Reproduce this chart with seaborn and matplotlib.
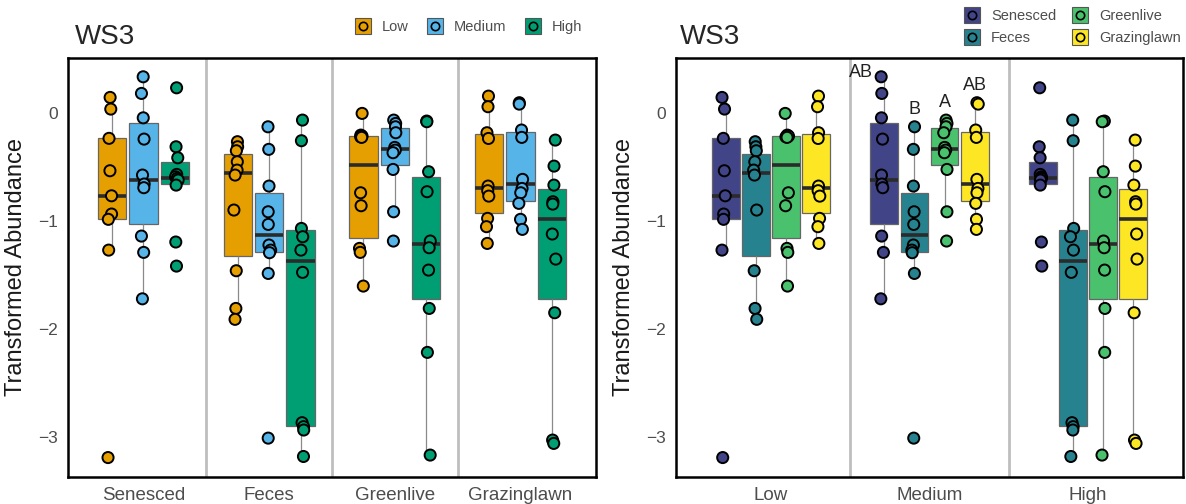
import numpy as np
import pandas as pd
import matplotlib
matplotlib.use("Agg")
import matplotlib.pyplot as plt
from matplotlib.lines import Line2D
from matplotlib.legend_handler import HandlerTuple
import seaborn as sns

# ---------------- data ----------------
substrates = ["Senesced", "Feces", "Greenlive", "Grazinglawn"]
levels = ["Low", "Medium", "High"]

senesced_low = [0.145, 0.037, -0.234, -0.534, -0.766, -0.935, -0.984, -1.269, -3.19]
senesced_medium = [0.336, 0.182, -0.044, -0.241, -0.574, -0.657, -0.691, -1.139, -1.29, -1.72]
senesced_high = [0.234, -0.312, -0.414, -0.568, -0.59, -0.605, -0.62, -0.667, -1.194, -1.417]

feces_low = [-0.265, -0.312, -0.349, -0.451, -0.528, -0.574, -0.898, -1.46, -1.809, -1.91]
feces_medium = [-0.127, -0.336, -0.676, -0.914, -1.031, -1.222, -1.269, -1.293, -1.485, -3.01]
feces_high = [-0.065, -0.256, -1.068, -1.145, -1.269, -1.475, -2.867, -2.904, -2.935, -3.18]

greenlive_low = [-0.003, -0.204, -0.213, -0.22, -0.225, -0.738, -0.858, -1.253, -1.29, -1.602]
greenlive_medium = [-0.065, -0.096, -0.127, -0.182, -0.318, -0.343, -0.367, -0.522, -0.914, -1.185]
greenlive_high = [-0.074, -0.08, -0.543, -0.728, -1.185, -1.247, -1.454, -1.809, -2.216, -3.167]

grazinglawn_low = [0.157, 0.059, -0.182, -0.235, -0.676, -0.719, -0.769, -0.975, -1.052, -1.207]
grazinglawn_medium = [0.096, 0.083, -0.157, -0.225, -0.614, -0.698, -0.738, -0.836, -0.984, -1.077]
grazinglawn_high = [-0.25, -0.491, -0.667, -0.821, -0.843, -1.12, -1.352, -1.849, -3.028, -3.059]

medium_letters = ["AB", "B", "A", "AB"]

level_colors = ["#E69F00", "#56B4E9", "#009E73"]
substrate_colors = ["#414487", "#26828E", "#4AC16D", "#FDE725"]

series = {
    ("Senesced", "Low"): senesced_low, ("Senesced", "Medium"): senesced_medium, ("Senesced", "High"): senesced_high,
    ("Feces", "Low"): feces_low, ("Feces", "Medium"): feces_medium, ("Feces", "High"): feces_high,
    ("Greenlive", "Low"): greenlive_low, ("Greenlive", "Medium"): greenlive_medium, ("Greenlive", "High"): greenlive_high,
    ("Grazinglawn", "Low"): grazinglawn_low, ("Grazinglawn", "Medium"): grazinglawn_medium, ("Grazinglawn", "High"): grazinglawn_high,
}
rows = []
for (s, l), vals in series.items():
    for v in vals:
        rows.append({"Substrate": s, "Level": l, "Value": v})
df = pd.DataFrame(rows)
df["Substrate"] = pd.Categorical(df["Substrate"], substrates, ordered=True)
df["Level"] = pd.Categorical(df["Level"], levels, ordered=True)

# ---------------- style ----------------
sns.set_style("white")
plt.rcParams["font.family"] = ["Liberation Sans", "DejaVu Sans"]
tick_gray = "#4D4D4D"

fig = plt.figure(figsize=(11.86, 5.04), dpi=100)
axL = fig.add_axes([68 / 1186, 1 - 477 / 504, 528 / 1186, 419 / 504])
axR = fig.add_axes([676 / 1186, 1 - 477 / 504, 507 / 1186, 419 / 504])

box_kw = dict(showfliers=False, showcaps=False, linewidth=0.9, linecolor="#555555", saturation=1,
              medianprops=dict(color="#2b2b2b", linewidth=2.6),
              whiskerprops=dict(color="#8a8a8a", linewidth=0.9),
              boxprops=dict(edgecolor="#666666"))

np.random.seed(3)
sns.boxplot(data=df, x="Substrate", y="Value", hue="Level", order=substrates, hue_order=levels,
            palette=level_colors, width=0.75, gap=0.1, ax=axL, legend=False, **box_kw)
sns.stripplot(data=df, x="Substrate", y="Value", hue="Level", order=substrates, hue_order=levels,
              palette=level_colors, dodge=True, jitter=0.05, size=8, linewidth=1.4,
              edgecolor="black", ax=axL, legend=False, zorder=5)

np.random.seed(7)
sns.boxplot(data=df, x="Level", y="Value", hue="Substrate", order=levels, hue_order=substrates,
            palette=substrate_colors, width=0.76, gap=0.08, ax=axR, legend=False, **box_kw)
sns.stripplot(data=df, x="Level", y="Value", hue="Substrate", order=levels, hue_order=substrates,
              palette=substrate_colors, dodge=True, jitter=0.045, size=8, linewidth=1.4,
              edgecolor="black", ax=axR, legend=False, zorder=5)

for ax, n in ((axL, 4), (axR, 3)):
    ax.set_xlim(-0.6, n - 1 + 0.6)
    ax.set_ylim(-3.37, 0.51)
    for k in range(n - 1):
        ax.axvline(k + 0.5, color="#BEBEBE", linewidth=2, zorder=0)
    for sp in ax.spines.values():
        sp.set_visible(True)
        sp.set_color("black")
        sp.set_linewidth(1.8)
    ax.set_yticks([0, -1, -2, -3])
    ax.set_yticklabels(["0", "\u22121", "\u22122", "\u22123"])
    ax.tick_params(axis="both", length=4, width=1.2, color="#333333", direction="out")
    ax.tick_params(axis="y", labelsize=12.5, labelcolor=tick_gray, pad=3)
    ax.tick_params(axis="x", labelsize=13.5, labelcolor=tick_gray, pad=3)
    ax.set_xlabel("")
    ax.set_ylabel("Transformed Abundance", fontsize=17, color="#1a1a1a", labelpad=8)
    ax.grid(False)

# significance letters above Medium boxes (right panel)
offsets = np.linspace(-0.285, 0.285, 4)
medium_max = [max(series[(s, "Medium")]) for s in substrates]
for i, (lab, mx) in enumerate(zip(medium_letters, medium_max)):
    dx = -0.15 if i == 0 else 0.0
    y = mx + (0.04 if i == 0 else 0.16)
    axR.text(1 + offsets[i] + dx, y, lab, ha="center", va="center", fontsize=13, color="#222222", zorder=6)

# titles
fig.text(75 / 1186, 1 - 37 / 504, "WS3", fontsize=20, ha="left", va="center")
fig.text(680 / 1186, 1 - 37 / 504, "WS3", fontsize=20, ha="left", va="center")

# legends
def key(c):
    sq = Line2D([], [], marker="s", markersize=11, markerfacecolor=c, markeredgecolor="#555555",
                linestyle="none", markeredgewidth=0.8)
    pt = Line2D([], [], marker="o", markersize=6, markerfacecolor=c, markeredgecolor="black",
                linestyle="none", markeredgewidth=1.2)
    return (sq, pt)

hm = {tuple: HandlerTuple(ndivide=1, pad=0)}
legL = fig.legend([key(c) for c in level_colors], levels, loc="center",
                  bbox_to_anchor=(468 / 1186, 1 - 27 / 504), ncol=3, frameon=False,
                  fontsize=10.5, handler_map=hm,
                  handlelength=1.2, columnspacing=1.2, handletextpad=0.7, labelcolor=tick_gray)
legR = fig.legend([key(c) for c in substrate_colors], substrates, loc="center",
                  bbox_to_anchor=(1072 / 1186, 1 - 27 / 504), ncol=2, frameon=False,
                  fontsize=10.5, handler_map=hm,
                  handlelength=1.2, columnspacing=1.0, handletextpad=0.7, labelspacing=0.5,
                  labelcolor=tick_gray)

fig.savefig("out.png", dpi=100)
